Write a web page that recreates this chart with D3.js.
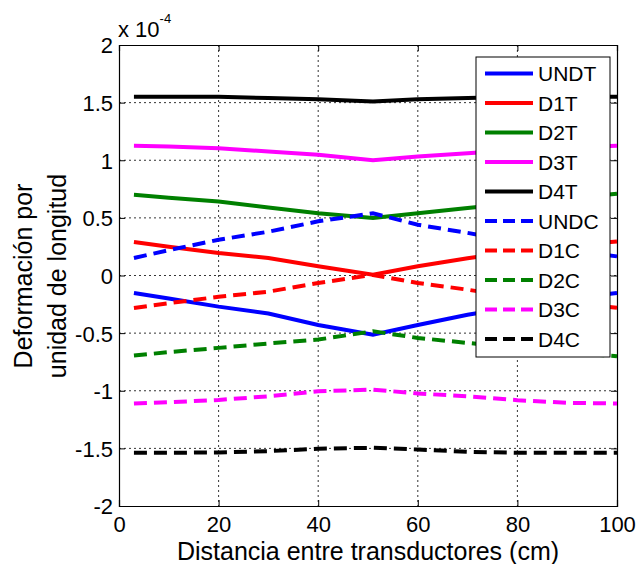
<!DOCTYPE html>
<html>
<head>
<meta charset="utf-8">
<script src="https://cdn.jsdelivr.net/npm/d3@7"></script>
<style>
  body { margin: 0; background: #fff; }
  text { font-family: "Liberation Sans", Arial, sans-serif; fill: #000; }
</style>
</head>
<body>
<div id="chart"></div>
<script>
// distance between transducers (cm)
var xs = [3, 10, 20, 30, 40, 51, 60, 70, 80, 90, 100];

// strain values, in units of 1e-4
var UNDT = [-0.152, -0.2, -0.27, -0.33, -0.43, -0.513, -0.43, -0.34, -0.27, -0.2, -0.152];
var D1T  = [0.29, 0.25, 0.195, 0.152, 0.08, 0.007, 0.08, 0.15, 0.21, 0.26, 0.295];
var D2T  = [0.70, 0.675, 0.642, 0.59, 0.54, 0.498, 0.54, 0.585, 0.63, 0.67, 0.71];
var D3T  = [1.125, 1.12, 1.105, 1.076, 1.047, 1.0, 1.032, 1.061, 1.09, 1.11, 1.125];
var D4T  = [1.55, 1.55, 1.55, 1.54, 1.53, 1.51, 1.53, 1.54, 1.55, 1.55, 1.55];
var UNDC = [0.152, 0.22, 0.31, 0.38, 0.47, 0.54, 0.44, 0.37, 0.29, 0.22, 0.166];
var D1C  = [-0.282, -0.24, -0.185, -0.14, -0.065, 0.005, -0.065, -0.123, -0.19, -0.24, -0.28];
var D2C  = [-0.695, -0.665, -0.628, -0.59, -0.556, -0.484, -0.542, -0.585, -0.63, -0.67, -0.70];
var D3C  = [-1.111, -1.10, -1.08, -1.048, -1.004, -0.99, -1.024, -1.048, -1.082, -1.105, -1.11];
var D4C  = [-1.538, -1.538, -1.535, -1.524, -1.503, -1.495, -1.51, -1.53, -1.538, -1.538, -1.538];

var names = ["UNDT", "D1T", "D2T", "D3T", "D4T", "UNDC", "D1C", "D2C", "D3C", "D4C"];
var colors = ["#0000ff", "#ff0000", "#008000", "#ff00ff", "#000000",
              "#0000ff", "#ff0000", "#008000", "#ff00ff", "#000000"];
var dashed = [false, false, false, false, false, true, true, true, true, true];

var xTicks = [0, 20, 40, 60, 80, 100];
var yTicks = [-2, -1.5, -1, -0.5, 0, 0.5, 1, 1.5, 2];

var allSeries = [UNDT, D1T, D2T, D3T, D4T, UNDC, D1C, D2C, D3C, D4C];

var W = 640, H = 564;
var margin = {top: 45, right: 23, bottom: 58, left: 119};
var width = W - margin.left - margin.right,
    height = H - margin.top - margin.bottom;

var svg = d3.select("#chart").append("svg")
    .attr("width", W).attr("height", H);
svg.append("rect").attr("width", W).attr("height", H).attr("fill", "#fff");

var g = svg.append("g")
    .attr("transform", "translate(" + margin.left + "," + margin.top + ")");

var x = d3.scaleLinear().domain([0, 100]).range([0, width]);
var y = d3.scaleLinear().domain([-2, 2]).range([height, 0]);

// grid
g.append("g").selectAll("line").data(xTicks.slice(1, -1)).join("line")
    .attr("x1", d => x(d)).attr("x2", d => x(d))
    .attr("y1", 0).attr("y2", height)
    .attr("stroke", "#000").attr("stroke-width", 0.8)
    .attr("stroke-dasharray", "2,3");
g.append("g").selectAll("line").data(yTicks.slice(1, -1)).join("line")
    .attr("x1", 0).attr("x2", width)
    .attr("y1", d => y(d)).attr("y2", d => y(d))
    .attr("stroke", "#000").attr("stroke-width", 0.8)
    .attr("stroke-dasharray", "2,3");

// axes with inward ticks
var tickFs = "22px", titleFs = "25px";
var xa = g.append("g").attr("transform", "translate(0," + height + ")")
    .call(d3.axisBottom(x).tickValues(xTicks).tickSize(-6).tickPadding(10).tickFormat(d => String(d)));
var ya = g.append("g")
    .call(d3.axisLeft(y).tickValues(yTicks).tickSize(-6).tickPadding(6).tickFormat(d => String(d)));
g.append("g").call(d3.axisTop(x).tickValues(xTicks).tickSize(-6).tickFormat(""));
g.append("g").attr("transform", "translate(" + width + ",0)")
    .call(d3.axisRight(y).tickValues(yTicks).tickSize(-6).tickFormat(""));
g.selectAll(".domain").attr("stroke", "#000").attr("stroke-width", 1.2);
g.selectAll(".tick line").attr("stroke", "#000");
[xa, ya].forEach(a => a.selectAll("text").style("font-size", tickFs).attr("fill", "#000"));
ya.selectAll("text").attr("dy", "0.36em");

// lines
var line = d3.line().x((d, i) => x(xs[i])).y(d => y(d));
allSeries.forEach(function(s, k) {
    g.append("path").datum(s)
        .attr("d", line)
        .attr("fill", "none")
        .attr("stroke", colors[k])
        .attr("stroke-width", 4)
        .attr("stroke-dasharray", dashed[k] ? "13,7" : null);
});

// legend
var lg = svg.append("g").attr("transform", "translate(476,57)");
lg.append("rect").attr("width", 134).attr("height", 300)
    .attr("fill", "#fff").attr("stroke", "#000").attr("stroke-width", 1);
names.forEach(function(n, k) {
    var cy = 16.5 + k * 29.5;
    lg.append("line").attr("x1", 9).attr("x2", 57).attr("y1", cy).attr("y2", cy)
        .attr("stroke", colors[k]).attr("stroke-width", 4)
        .attr("stroke-dasharray", dashed[k] ? "12,6" : null);
    lg.append("text").attr("x", 62).attr("y", cy).attr("dy", "0.36em")
        .style("font-size", "21px").text(n);
});

// exponent label
var ex = svg.append("text").attr("x", 118).attr("y", 37).style("font-size", "22px");
ex.append("tspan").text("x 10");
ex.append("tspan").attr("dy", -14).style("font-size", "13px").text("-4");

// axis titles
svg.append("text").attr("x", margin.left + width / 2).attr("y", 560)
    .attr("text-anchor", "middle").style("font-size", titleFs)
    .text("Distancia entre transductores (cm)");
var yl = svg.append("text").attr("transform", "translate(0,276) rotate(-90)")
    .attr("text-anchor", "middle").style("font-size", titleFs);
yl.append("tspan").attr("x", 0).attr("y", 32).text("Deformación por");
yl.append("tspan").attr("x", 0).attr("y", 66).text("unidad de longitud");
</script>
</body>
</html>
